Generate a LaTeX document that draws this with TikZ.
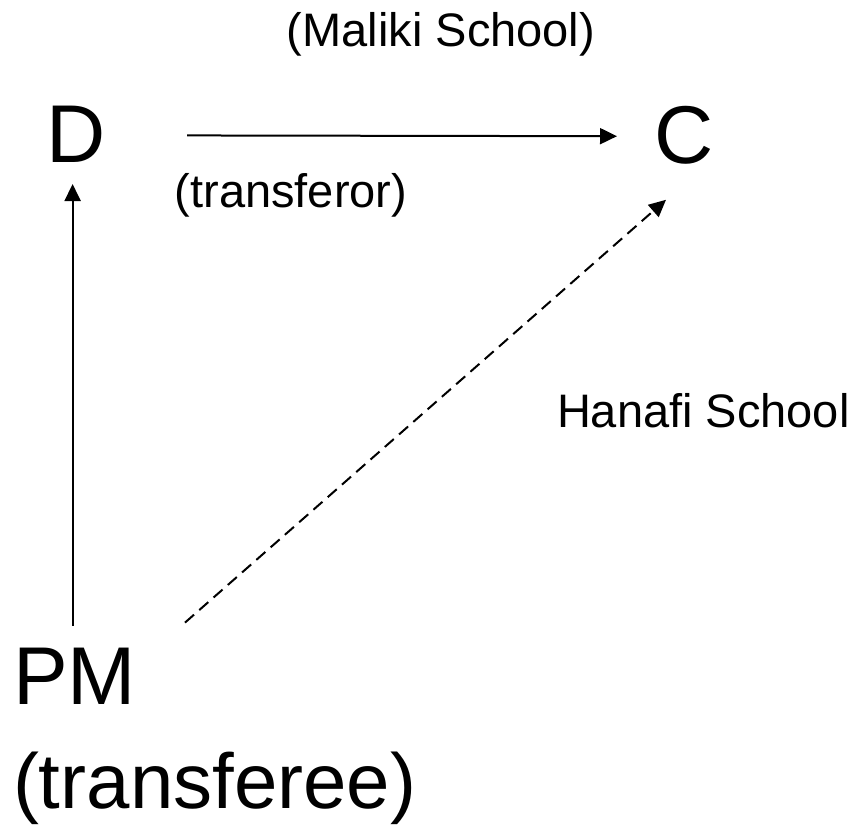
\documentclass[tikz,border=0pt]{standalone}
\usepackage{fontspec}
\setmainfont{Liberation Sans}
\usetikzlibrary{arrows.meta}
\newcommand{\arw}{-{Triangle[length=17pt,width=16pt]}}

\begin{document}
\begin{tikzpicture}[x=1pt,y=-1pt,line width=2pt,
  big/.style={inner sep=0pt,font=\fontsize{82}{94}\selectfont},
  small/.style={inner sep=0pt,font=\fontsize{47}{54}\selectfont}]
\useasboundingbox (0,0) rectangle (861,827);
%parties
\node[big,anchor=base west] (D) at (45,162) {D};
\node[big,anchor=base west] (C) at (653,163) {C};
\node[big,anchor=base west] (pm) at (12,704) {PM};
\node[big,anchor=base west,font=\fontsize{78}{90}\selectfont] (pmrole) at (12,808) {(transferee)};
%school labels
\node[small,anchor=base] (maliki) at (441,46) {(Maliki School)};
\node[small,anchor=base] (transferor) at (291,207) {(transferor)};
\node[small,anchor=base west] (hanafi) at (556,427) {Hanafi School};
%transfers
\draw[\arw,shorten <=81pt,shorten >=36pt] ([yshift=-1.5pt]D.east) -- ([yshift=-1.5pt]C.west);
\draw[\arw,shorten <=21pt,shorten >=21pt] ([xshift=-3pt]D.south |- pm.north) -- ([xshift=-3pt]D.south);
\draw[\arw,dash pattern=on 12pt off 7pt] ([xshift=48pt,yshift=24pt]pm.north east) -- ([xshift=13pt,yshift=-35pt]C.south west);
\end{tikzpicture}
\end{document}
